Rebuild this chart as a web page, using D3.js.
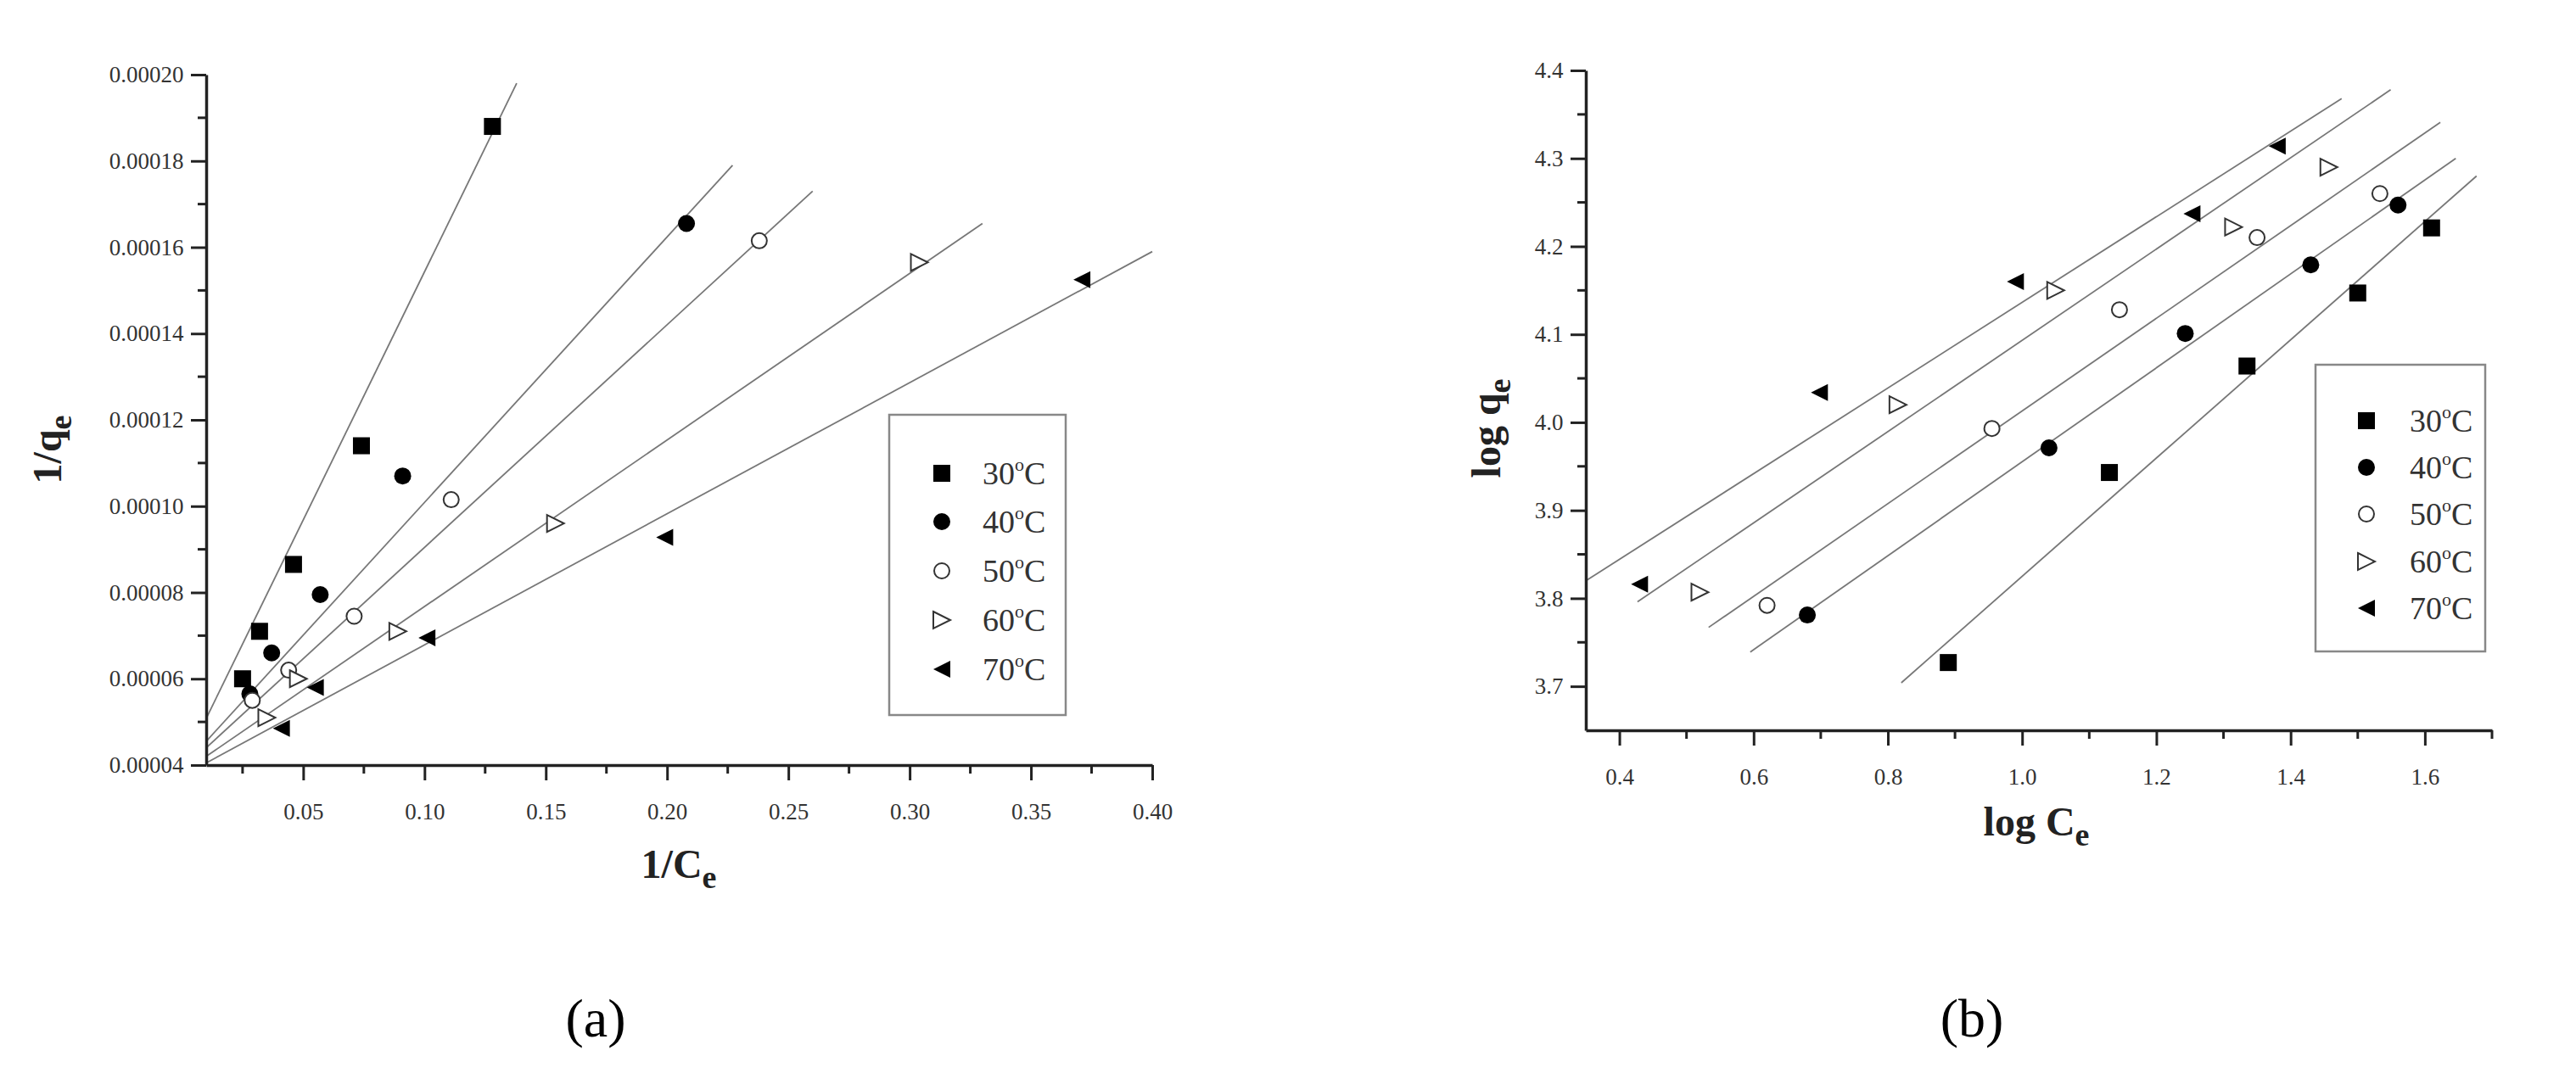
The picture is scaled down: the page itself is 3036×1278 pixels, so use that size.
<!DOCTYPE html>
<html><head><meta charset="utf-8">
<script src="https://cdn.jsdelivr.net/npm/d3@7"></script>
<style>body{margin:0;background:#fff}svg{font-family:"Liberation Serif","DejaVu Serif",serif}</style>
</head><body>
<svg id="c" width="3036" height="1278"></svg>
<script>
const series = ["30°C","40°C","50°C","60°C","70°C"];
const symbols = ["square","circle","ocircle","rtri","ltri"];
// Panel (a): 1/Ce vs 1/qe
const aX = [
 [0.025,0.032,0.046,0.074,0.128],
 [0.028,0.037,0.057,0.091,0.208],
 [0.029,0.044,0.071,0.111,0.238],
 [0.035,0.048,0.089,0.154,0.304],
 [0.041,0.055,0.101,0.199,0.371]];
const aY = [
 [0.0000600,0.0000710,0.0000865,0.0001140,0.0001880],
 [0.0000565,0.0000660,0.0000795,0.0001070,0.0001655],
 [0.0000550,0.0000620,0.0000745,0.0001015,0.0001615],
 [0.0000510,0.0000600,0.0000710,0.0000960,0.0001565],
 [0.0000485,0.0000580,0.0000695,0.0000928,0.0001525]];
const aFitX = [[0.01,0.138],[0.01,0.227],[0.01,0.26],[0.01,0.33],[0.01,0.40]];
const aFitY = [[0.0000508,0.000198],[0.0000455,0.000179],[0.000044,0.000173],[0.000042,0.0001655],[0.0000405,0.000159]];
const aXTicks = [0.05,0.10,0.15,0.20,0.25,0.30,0.35,0.40];
const aYTicks = [0.00004,0.00006,0.00008,0.00010,0.00012,0.00014,0.00016,0.00018,0.00020];
// Panel (b): log Ce vs log qe
const bX = [
 [0.89,1.13,1.335,1.50,1.61],
 [0.68,1.04,1.243,1.43,1.56],
 [0.62,0.955,1.145,1.35,1.533],
 [0.52,0.815,1.05,1.315,1.457],
 [0.43,0.698,0.99,1.253,1.38]];
const bY = [
 [3.727,3.943,4.064,4.147,4.221],
 [3.781,3.971,4.101,4.179,4.247],
 [3.792,3.993,4.128,4.210,4.260],
 [3.807,4.020,4.150,4.222,4.290],
 [3.816,4.034,4.160,4.237,4.314]];
const bFitX = [[0.82,1.677],[0.595,1.646],[0.533,1.623],[0.427,1.549],[0.35,1.476]];
const bFitY = [[3.704,4.280],[3.739,4.300],[3.767,4.341],[3.796,4.378],[3.820,4.368]];
const bXTicks = [0.4,0.6,0.8,1.0,1.2,1.4,1.6];
const bYTicks = [3.7,3.8,3.9,4.0,4.1,4.2,4.3,4.4];

const svg = d3.select("#c");

function marker(g, type, x, y, s) {
  const col = "#000";
  if (type==="square") g.append("rect").attr("x",x-s/2).attr("y",y-s/2).attr("width",s).attr("height",s).attr("fill",col);
  else if (type==="circle") g.append("circle").attr("cx",x).attr("cy",y).attr("r",s/2).attr("fill",col);
  else if (type==="ocircle") g.append("circle").attr("cx",x).attr("cy",y).attr("r",s/2-1).attr("fill","#fff").attr("stroke","#333").attr("stroke-width",2);
  else if (type==="rtri") g.append("path").attr("d",`M${x-s/2},${y-s/2}L${x+s/2},${y}L${x-s/2},${y+s/2}Z`).attr("fill","#fff").attr("stroke","#333").attr("stroke-width",2);
  else g.append("path").attr("d",`M${x+s/2},${y-s/2}L${x-s/2},${y}L${x+s/2},${y+s/2}Z`).attr("fill",col);
}

function panel(o) {
  const g = svg.append("g");
  const x = d3.scaleLinear().domain(o.xd).range([o.l,o.r]);
  const y = d3.scaleLinear().domain(o.yd).range([o.b,o.t]);
  // fit lines
  o.fx.forEach((fx,i)=>{
    g.append("line").attr("x1",x(fx[0])).attr("y1",y(o.fy[i][0])).attr("x2",x(fx[1])).attr("y2",y(o.fy[i][1]))
     .attr("stroke","#777").attr("stroke-width",1.8);
  });
  // axes
  const ax = g.append("g").attr("transform",`translate(0,${o.b})`)
    .call(d3.axisBottom(x).tickValues(o.xt).tickFormat(o.xf).tickSize(18).tickSizeOuter(0));
  const ay = g.append("g").attr("transform",`translate(${o.l},0)`)
    .call(d3.axisLeft(y).tickValues(o.yt).tickFormat(o.yf).tickSize(18).tickSizeOuter(0));
  [ax,ay].forEach(a=>{
    a.select(".domain").attr("stroke","#222").attr("stroke-width",3.5);
    a.selectAll(".tick line").attr("stroke","#222").attr("stroke-width",3);
    a.selectAll("text").attr("font-size",27).attr("fill","#333").attr("font-family","Liberation Serif");
  });
  ax.selectAll("text").attr("dy","1.6em");
  ay.selectAll("text").attr("dx","-0.2em");
  // minor ticks
  o.xm.forEach(v=>g.append("line").attr("x1",x(v)).attr("x2",x(v)).attr("y1",o.b).attr("y2",o.b+10).attr("stroke","#222").attr("stroke-width",3));
  o.ym.forEach(v=>g.append("line").attr("y1",y(v)).attr("y2",y(v)).attr("x1",o.l).attr("x2",o.l-10).attr("stroke","#222").attr("stroke-width",3));
  // markers
  o.px.forEach((xs,i)=>xs.forEach((v,j)=>marker(g,symbols[i],x(v),y(o.py[i][j]),20)));
  // legend
  const L=o.leg;
  g.append("rect").attr("x",L.x0).attr("y",L.y0).attr("width",L.x1-L.x0).attr("height",L.y1-L.y0).attr("fill","none").attr("stroke","#888").attr("stroke-width",2.5);
  series.forEach((s,i)=>{
    const yy=L.ys[i];
    marker(g,symbols[i],L.mx,yy,20);
    const t=g.append("text").attr("x",L.tx).attr("y",yy+13).attr("font-size",38).attr("fill","#333");
    t.append("tspan").text(s.slice(0,2));
    t.append("tspan").text("o").attr("font-size",22).attr("dy",-16);
    t.append("tspan").text("C").attr("dy",16);
  });
  // titles
  const xt=g.append("text").attr("x",o.xl[0]).attr("y",o.xl[1]).attr("text-anchor","middle").attr("font-size",48).attr("font-weight","bold").attr("fill","#222");
  xt.append("tspan").text(o.xlab); xt.append("tspan").text("e").attr("font-size",38).attr("dy",12);
  const yt=g.append("text").attr("transform",`translate(${o.yl[0]},${o.yl[1]}) rotate(-90)`).attr("text-anchor","middle").attr("font-size",48).attr("font-weight","bold").attr("fill","#222");
  yt.append("tspan").text(o.ylab); yt.append("tspan").text("e").attr("font-size",38).attr("dy",12);
  svg.append("text").attr("x",o.cap[0]).attr("y",o.cap[1]).attr("text-anchor","middle").attr("font-size",64).attr("fill","#000").text(o.capt);
}

panel({xd:[0.01,0.40],yd:[0.00004,0.00020],l:243,r:1358,t:88,b:902,
  xt:aXTicks,yt:aYTicks,xf:d3.format(".2f"),yf:d3.format(".5f"),
  xm:[0.025,0.075,0.125,0.175,0.225,0.275,0.325,0.375],
  ym:[0.00005,0.00007,0.00009,0.00011,0.00013,0.00015,0.00017,0.00019],
  px:aX,py:aY,fx:aFitX,fy:aFitY,
  leg:{x0:1048,x1:1256,y0:489,y1:843,ys:[558,615,673,731,789],mx:1110,tx:1158},
  xl:[800,1035],yl:[72,530],xlab:"1/C",ylab:"1/q",cap:[702,1222],capt:"(a)"});

panel({xd:[0.35,1.70],yd:[3.65,4.4],l:1869,r:2937,t:83,b:861,
  xt:bXTicks,yt:bYTicks,xf:d3.format(".1f"),yf:d3.format(".1f"),
  xm:[0.5,0.7,0.9,1.1,1.3,1.5,1.7],
  ym:[3.75,3.85,3.95,4.05,4.15,4.25,4.35],
  px:bX,py:bY,fx:bFitX,fy:bFitY,
  leg:{x0:2729,x1:2929,y0:430,y1:768,ys:[496,551,606,662,717],mx:2789,tx:2840},
  xl:[2400,985],yl:[1768,505],xlab:"log C",ylab:"log q",cap:[2324,1222],capt:"(b)"});
</script>
</body></html>
